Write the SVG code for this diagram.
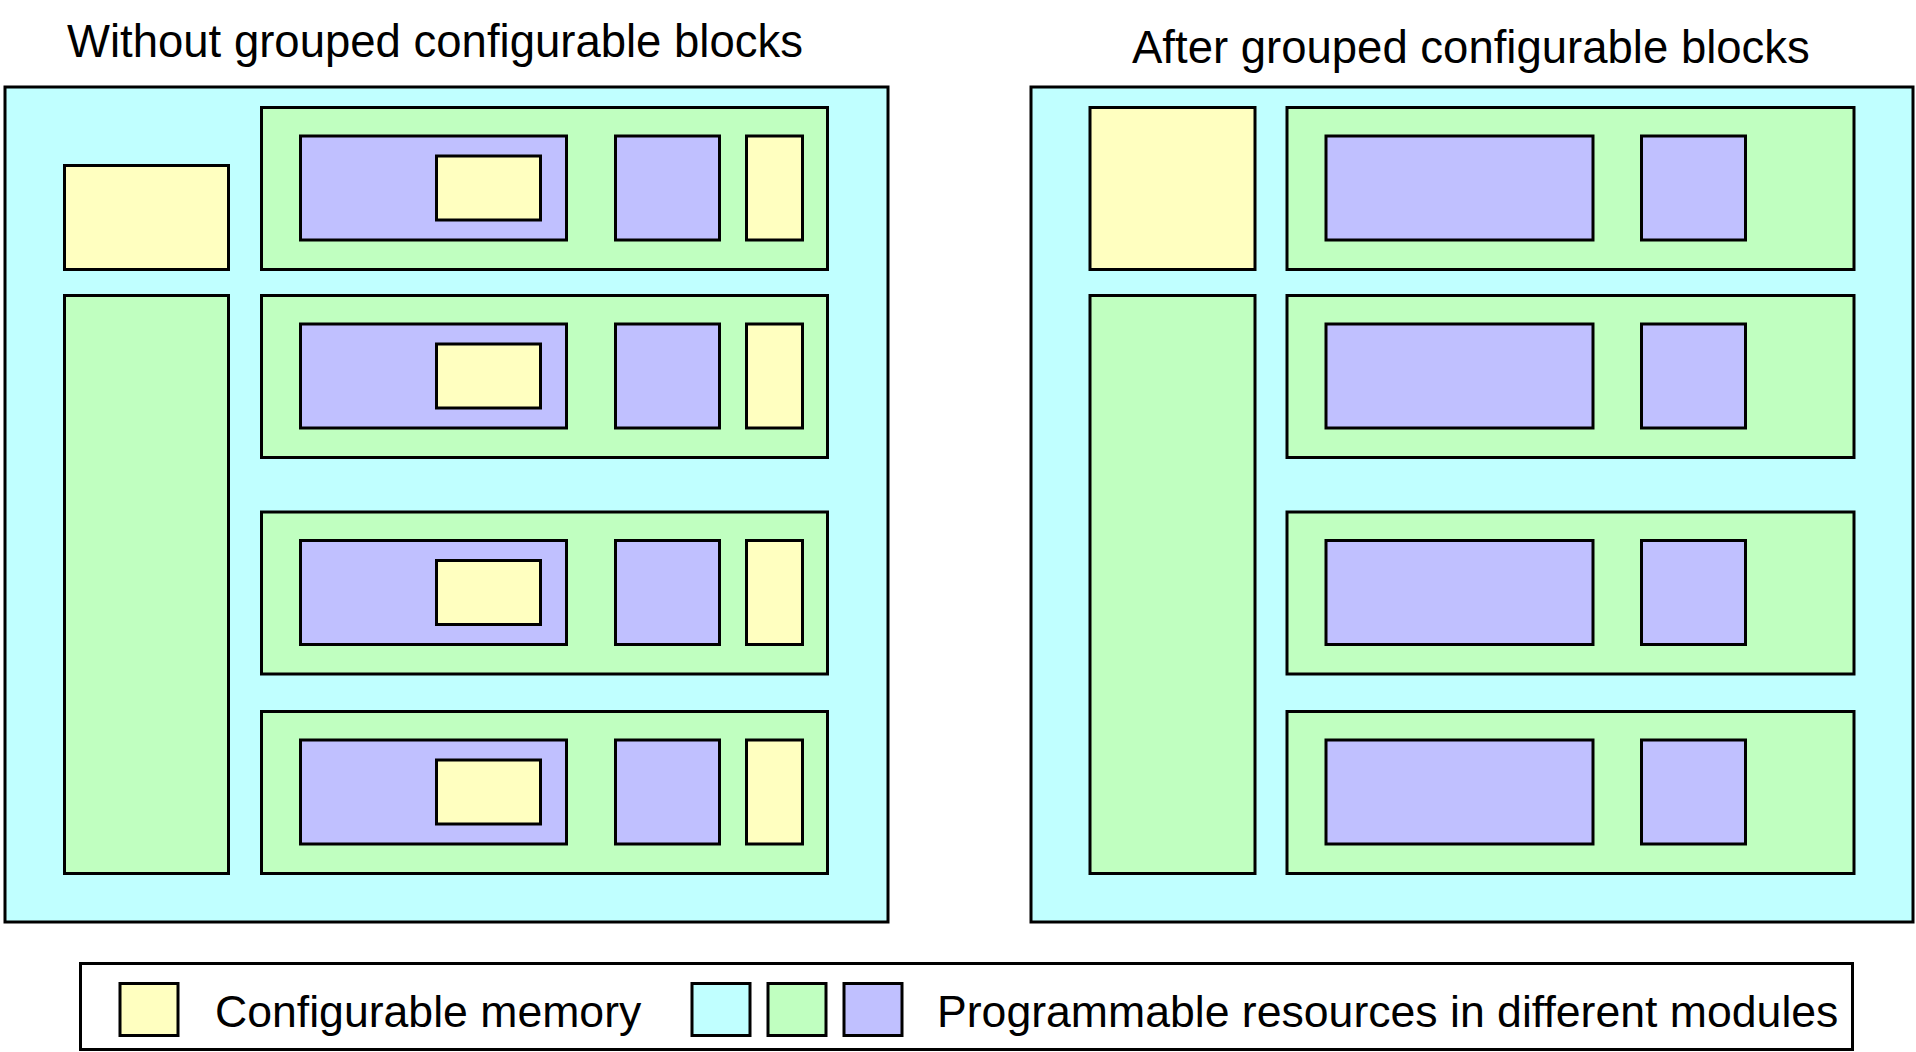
<svg xmlns="http://www.w3.org/2000/svg" width="1916" height="1052" viewBox="0 0 1916 1052">
<style>
rect{stroke:#000;stroke-width:3}
.c{fill:#C0FFFF}.g{fill:#C0FFC0}.p{fill:#C0C0FF}.y{fill:#FFFFC0}.w{fill:#fff}
text{font-family:"Liberation Sans",Arial,Helvetica,sans-serif;fill:#000}
.t{font-size:45.5px}.l{font-size:44.6px}
</style>
<text class="t" x="67" y="57">Without grouped configurable blocks</text>
<text class="t" x="1132" y="63">After grouped configurable blocks</text>
<g id="left-panel">
<rect id="left-outer" class="c" x="5" y="87" width="883" height="835"/>
<rect id="left-mem" class="y" x="64.5" y="165.5" width="164" height="104"/>
<rect id="left-tall" class="g" x="64.5" y="295.5" width="164" height="578"/>
<g id="left-row1">
<rect class="g" x="261.5" y="107.5" width="566" height="162"/>
<rect class="p" x="300.5" y="136" width="266" height="104"/>
<rect class="y" x="436.5" y="156" width="104" height="64"/>
<rect class="p" x="615.5" y="136" width="104" height="104"/>
<rect class="y" x="746.5" y="136" width="56" height="104"/>
</g>
<g id="left-row2">
<rect class="g" x="261.5" y="295.5" width="566" height="162"/>
<rect class="p" x="300.5" y="324" width="266" height="104"/>
<rect class="y" x="436.5" y="344" width="104" height="64"/>
<rect class="p" x="615.5" y="324" width="104" height="104"/>
<rect class="y" x="746.5" y="324" width="56" height="104"/>
</g>
<g id="left-row3">
<rect class="g" x="261.5" y="512" width="566" height="162"/>
<rect class="p" x="300.5" y="540.5" width="266" height="104"/>
<rect class="y" x="436.5" y="560.5" width="104" height="64"/>
<rect class="p" x="615.5" y="540.5" width="104" height="104"/>
<rect class="y" x="746.5" y="540.5" width="56" height="104"/>
</g>
<g id="left-row4">
<rect class="g" x="261.5" y="711.5" width="566" height="162"/>
<rect class="p" x="300.5" y="740" width="266" height="104"/>
<rect class="y" x="436.5" y="760" width="104" height="64"/>
<rect class="p" x="615.5" y="740" width="104" height="104"/>
<rect class="y" x="746.5" y="740" width="56" height="104"/>
</g>
</g>
<g id="right-panel">
<rect id="right-outer" class="c" x="1031" y="87" width="882" height="835"/>
<rect id="right-mem" class="y" x="1090" y="107.5" width="165" height="162"/>
<rect id="right-tall" class="g" x="1090" y="295.5" width="165" height="578"/>
<g id="right-row1">
<rect class="g" x="1287" y="107.5" width="567" height="162"/>
<rect class="p" x="1326" y="136" width="267" height="104"/>
<rect class="p" x="1641.5" y="136" width="104" height="104"/>
</g>
<g id="right-row2">
<rect class="g" x="1287" y="295.5" width="567" height="162"/>
<rect class="p" x="1326" y="324" width="267" height="104"/>
<rect class="p" x="1641.5" y="324" width="104" height="104"/>
</g>
<g id="right-row3">
<rect class="g" x="1287" y="512" width="567" height="162"/>
<rect class="p" x="1326" y="540.5" width="267" height="104"/>
<rect class="p" x="1641.5" y="540.5" width="104" height="104"/>
</g>
<g id="right-row4">
<rect class="g" x="1287" y="711.5" width="567" height="162"/>
<rect class="p" x="1326" y="740" width="267" height="104"/>
<rect class="p" x="1641.5" y="740" width="104" height="104"/>
</g>
</g>
<g id="legend">
<rect class="w" x="80.5" y="963.5" width="1772" height="86"/>
<rect class="y" x="120" y="983.5" width="58" height="52"/>
<text class="l" x="215" y="1027">Configurable memory</text>
<rect class="c" x="692" y="983.5" width="58" height="52"/>
<rect class="g" x="768" y="983.5" width="58" height="52"/>
<rect class="p" x="844" y="983.5" width="58" height="52"/>
<text class="l" x="937" y="1027">Programmable resources in different modules</text>
</g>
<g id="connectors"/>
</svg>
